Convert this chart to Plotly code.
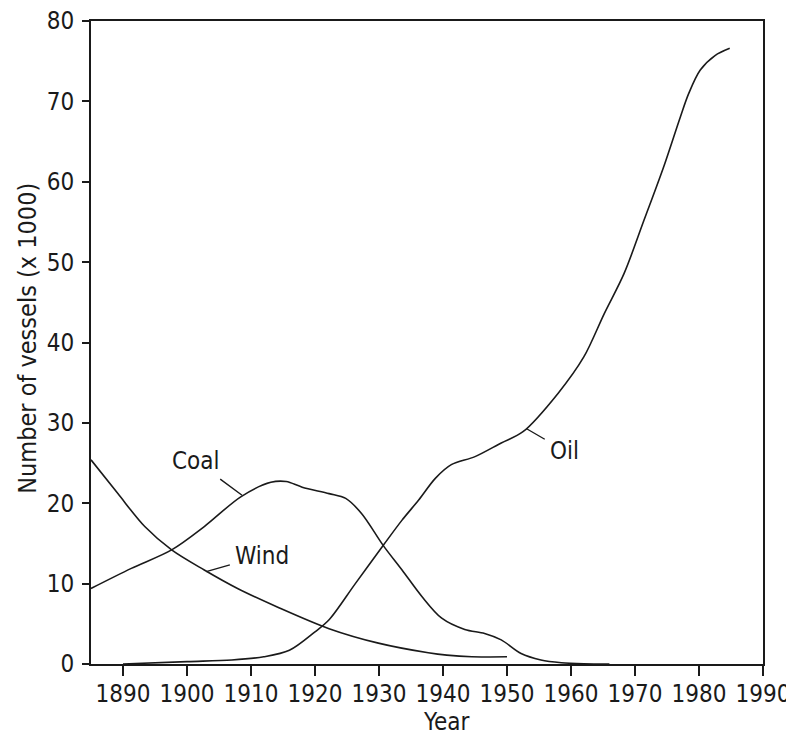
import plotly.graph_objects as go

# Data (number of vessels, thousands)
oil_years = [1890, 1900, 1907, 1912, 1916, 1920, 1922.2, 1926.3, 1930.7, 1933.6, 1936.2, 1938.8, 1941.3, 1945, 1949.1, 1952.5, 1958, 1962, 1965.2, 1968.3, 1971.4, 1974.5, 1977.1, 1978.4, 1980.2, 1982.5, 1984.8]
oil_values = [0.0, 0.3, 0.5, 0.9, 1.7, 4.0, 5.5, 10.0, 14.8, 17.9, 20.4, 23.1, 24.8, 25.8, 27.5, 28.9, 33.7, 38.2, 43.6, 48.6, 55.2, 61.9, 68.1, 71.0, 73.9, 75.7, 76.6]

coal_years = [1885, 1891.3, 1897.6, 1902.7, 1908.4, 1913.1, 1915.5, 1918, 1922.2, 1924.8, 1927.3, 1930.7, 1933.6, 1936.7, 1939.8, 1943.4, 1946.5, 1949.1, 1952.2, 1955.3, 1958.5, 1962, 1966]
coal_values = [9.4, 11.9, 14.2, 17.1, 20.8, 22.6, 22.7, 22.0, 21.2, 20.6, 18.7, 14.7, 11.7, 8.4, 5.7, 4.3, 3.8, 3.0, 1.3, 0.5, 0.16, 0.03, 0.0]

wind_years = [1885, 1889.2, 1893.4, 1897.6, 1902.7, 1907.9, 1914.1, 1922.2, 1929.9, 1937.7, 1940.6, 1944.5, 1950]
wind_values = [25.4, 21.2, 17.1, 14.2, 11.7, 9.4, 7.1, 4.4, 2.6, 1.4, 1.1, 0.9, 0.9]

x_ticks = [1890, 1900, 1910, 1920, 1930, 1940, 1950, 1960, 1970, 1980, 1990]
y_ticks = [0, 10, 20, 30, 40, 50, 60, 70, 80]

FONT = "DejaVu Sans Condensed"
INK = "#1a1a1a"

fig = go.Figure()
for xs, ys, name in [(oil_years, oil_values, "Oil"), (coal_years, coal_values, "Coal"), (wind_years, wind_values, "Wind")]:
    fig.add_trace(go.Scatter(x=xs, y=ys, mode="lines", name=name,
                             line=dict(color=INK, width=1.6, shape="spline", smoothing=0.9),
                             showlegend=False, hoverinfo="skip"))

def label(text, x, y, ax, ay):
    fig.add_annotation(x=x, y=y, xref="x", yref="y", text=text, showarrow=True,
                       arrowhead=0, arrowwidth=1.4, arrowcolor=INK, ax=ax, ay=ay,
                       standoff=0, startstandoff=4,
                       font=dict(family=FONT, size=24, color=INK))

label("Coal", 1908.6, 21.0, -46, -34)
label("Wind", 1903.0, 11.5, 56, -16)
label("Oil", 1953.0, 29.3, 38, 22)

fig.add_annotation(x=1940.6, y=-0.09, xref="x", yref="paper", yanchor="middle", xanchor="center",
                   text="Year", showarrow=False, font=dict(family=FONT, size=24, color=INK))
fig.add_annotation(x=-0.094, y=0.507, xref="paper", yref="paper", textangle=-90,
                   xanchor="center", yanchor="middle",
                   text="Number of vessels (x 1000)", showarrow=False,
                   font=dict(family=FONT, size=25, color=INK))

fig.update_xaxes(range=[1885, 1990], tickvals=x_ticks, ticktext=[str(v) for v in x_ticks],
                 ticks="outside", ticklen=10, tickwidth=1.8, tickcolor=INK,
                 showline=True, linecolor=INK, linewidth=2, mirror=True,
                 showgrid=False, zeroline=False, ticklabelstandoff=-3, automargin=False,
                 ticklabeloverflow="allow",
                 tickfont=dict(family=FONT, size=24, color=INK))
fig.update_yaxes(range=[0, 80], tickvals=y_ticks, ticktext=[str(v) for v in y_ticks],
                 ticks="outside", ticklen=7, tickwidth=1.8, tickcolor=INK,
                 showline=True, linecolor=INK, linewidth=2, mirror=True,
                 showgrid=False, zeroline=False, ticklabelstandoff=3, automargin=False,
                 ticklabeloverflow="allow",
                 tickfont=dict(family=FONT, size=24, color=INK))

# page body has an 8px margin, so shift the figure accordingly
fig.update_layout(width=786, height=728, margin=dict(l=83, r=31, t=13, b=72),
                  plot_bgcolor="white", paper_bgcolor="white")

fig.write_html("out.html")
